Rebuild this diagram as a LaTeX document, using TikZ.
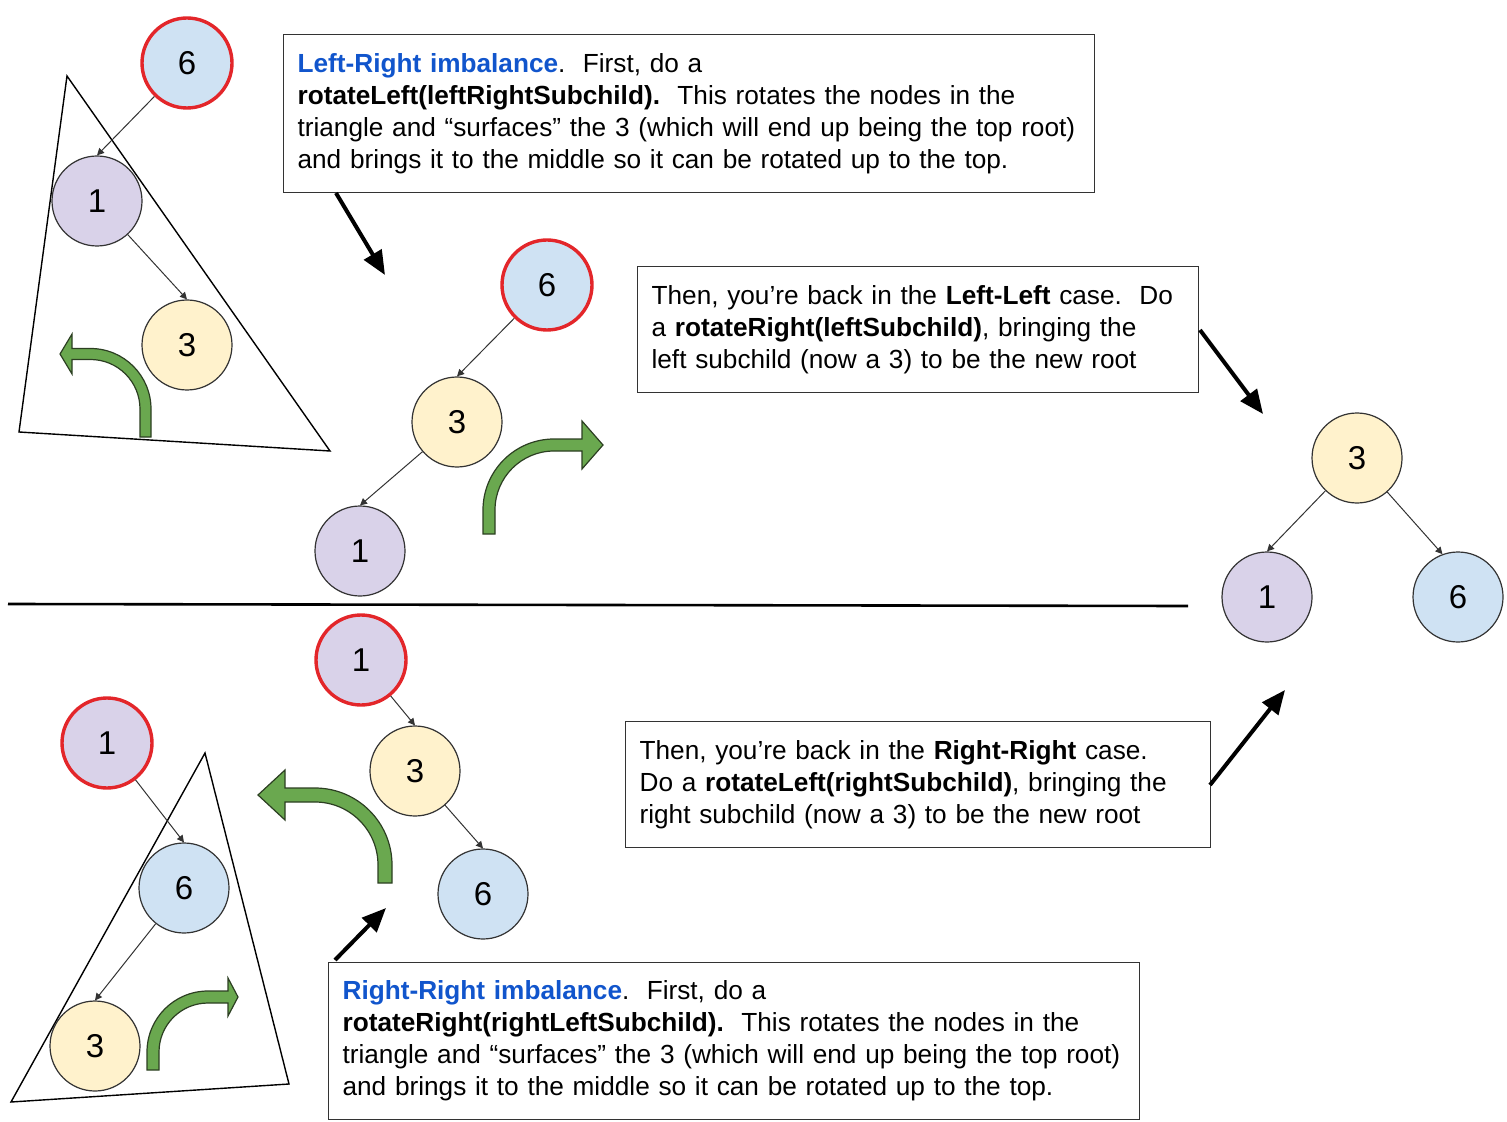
\documentclass[tikz,border=0pt]{standalone}
\usepackage{fontspec}
\setmainfont{Liberation Sans}
\usetikzlibrary{arrows.meta}
\definecolor{cpurple}{HTML}{D9D2E9}
\definecolor{cblue}{HTML}{CFE2F3}
\definecolor{cyellow}{HTML}{FFF2CC}
\definecolor{cred}{HTML}{E3262A}
\definecolor{cgreen}{HTML}{6AA84F}
\definecolor{cgreenline}{HTML}{2C3F22}
\definecolor{ctextblue}{HTML}{1155CC}
\definecolor{cline}{HTML}{333333}
\newcommand\greenarr[9]{%
  \begin{scope}[shift={(#1,#2)},xscale=#3]
    \draw[garrowsty] (-#9,0) -- (-#9,-#4)
      arc[start angle=180,end angle=270,radius={#5+#9}]
      -- ({#5+#6},{-#4-#5-#9}) -- ({#5+#6},{-#4-#5-#8})
      -- ({#5+#6+#7},{-#4-#5}) -- ({#5+#6},{-#4-#5+#8})
      -- ({#5+#6},{-#4-#5+#9}) -- (#5,{-#4-#5+#9})
      arc[start angle=270,end angle=180,radius={#5-#9}]
      -- (#9,0) -- cycle;
  \end{scope}}
\tikzset{
  garrowsty/.style={fill=cgreen,draw=cgreenline,line width=0.6pt,line join=miter},
  tnode/.style={circle,draw=cline,line width=0.6pt,minimum size=45pt,inner sep=0pt,
    font=\fontsize{16.5pt}{16.5pt}\selectfont},
  rootnode/.style={tnode,draw=cred,line width=1.7pt},
  pnode/.style={fill=cpurple},
  bnode/.style={fill=cblue},
  ynode/.style={fill=cyellow},
  edge/.style={draw=cline,line width=0.5pt,-{Triangle[length=3.5pt,width=3.5pt]}},
  bigarrow/.style={line width=2pt,-{Triangle[length=12pt,width=10pt]}},
  tri/.style={draw=black,line width=0.7pt},
  box/.style={draw=cline,line width=0.6pt,anchor=north west,align=left,
    inner xsep=7pt,inner ysep=0pt,
    font=\fontsize{13.1pt}{16pt}\selectfont},
}
\begin{document}
\begin{tikzpicture}[x=0.5pt,y=-0.5pt]
\useasboundingbox (0,0) rectangle (1507,1122);

% triangles
\draw[tri] (67,76) -- (19,432) -- (330,451) -- cycle;
\draw[tri] (205,753) -- (11,1102) -- (289,1084) -- cycle;

% green curved arrows
\greenarr{145.5}{437}{-1}{28}{55}{18.5}{12}{20}{5.5}
\greenarr{489}{534}{1}{24}{65}{28}{21}{24}{6}
\greenarr{385}{883}{-1}{18}{70}{30}{27}{25}{7}
\greenarr{153}{1070}{1}{18}{55}{20}{10}{19}{6}

% top-left tree
\node[rootnode,bnode] (a6) at (187,63) {6};
\node[tnode,pnode] (a1) at (97,201) {1};
\node[tnode,ynode] (a3) at (187,345) {3};
\draw[edge] (a6) -- (a1.north);
\draw[edge] (a1) -- (a3.north);

% middle tree
\node[rootnode,bnode] (b6) at (547,285) {6};
\node[tnode,ynode] (b3) at (457,422) {3};
\node[tnode,pnode] (b1) at (360,551) {1};
\draw[edge] (b6) -- (b3.north);
\draw[edge] (b3) -- (b1.north);

% right tree
\node[tnode,ynode] (c3) at (1357,458) {3};
\node[tnode,pnode] (c1) at (1267,597) {1};
\node[tnode,bnode] (c6) at (1458,597) {6};
\draw[edge] (c3) -- (c1.north);
\draw[edge] (c3) -- (c6.110);

% bottom middle tree
\node[rootnode,pnode] (d1) at (361,660) {1};
\node[tnode,ynode] (d3) at (415,771) {3};
\node[tnode,bnode] (d6) at (483,894) {6};
\draw[edge] (d1) -- (d3.north);
\draw[edge] (d3) -- (d6.north);

% bottom-left tree
\node[rootnode,pnode] (e1) at (107,743) {1};
\node[tnode,bnode] (e6) at (184,888) {6};
\node[tnode,ynode] (e3) at (95,1046) {3};
\draw[edge] (e1) -- (e6.north);
\draw[edge] (e6) -- (e3.north);

% separator
\coordinate (sepL) at (8,604);
\coordinate (sepR) at (1188,606);
\draw[line width=1.3pt] (sepL) -- (sepR);

% text boxes
\node[box,minimum width=405.5pt,minimum height=79pt,text width=391.5pt] (box1) at (283,34)
 {\mbox{\textbf{\textcolor{ctextblue}{Left-Right imbalance}}.\ \ First, do a}\\
  \mbox{\textbf{rotateLeft(leftRightSubchild).}\ \ This rotates the nodes in the}\\
  \mbox{triangle and “surfaces” the 3 (which will end up being the top root)}\\
  \mbox{and brings it to the middle so it can be rotated up to the top.}};
\node[box,minimum width=280.5pt,minimum height=63pt,text width=266.5pt] (box2) at (637,266)
 {\mbox{Then, you’re back in the \textbf{Left-Left} case.\ \ Do}\\
  \mbox{a \textbf{rotateRight(leftSubchild)}, bringing the}\\
  \mbox{left subchild (now a 3) to be the new root}};
\node[box,minimum width=292.5pt,minimum height=63pt,text width=278.5pt] (box3) at (625,721)
 {\mbox{Then, you’re back in the \textbf{Right-Right} case.}\\
  \mbox{Do a \textbf{rotateLeft(rightSubchild)}, bringing the}\\
  \mbox{right subchild (now a 3) to be the new root}};
\node[box,minimum width=405.5pt,minimum height=78.5pt,text width=391.5pt] (box4) at (328,962)
 {\mbox{\textbf{\textcolor{ctextblue}{Right-Right imbalance}}.\ \ First, do a}\\
  \mbox{\textbf{rotateRight(rightLeftSubchild).}\ \ This rotates the nodes in the}\\
  \mbox{triangle and “surfaces” the 3 (which will end up being the top root)}\\
  \mbox{and brings it to the middle so it can be rotated up to the top.}};

% black arrows
\coordinate (p1s) at (336,193); \coordinate (p1e) at (385,275);
\coordinate (p2s) at (1200,330); \coordinate (p2e) at (1263,414);
\coordinate (p3s) at (335,960); \coordinate (p3e) at (386,908);
\coordinate (p4s) at (1210,785); \coordinate (p4e) at (1285,690);
\draw[bigarrow] (p1s) -- (p1e);
\draw[bigarrow] (p2s) -- (p2e);
\draw[bigarrow] (p3s) -- (p3e);
\draw[bigarrow] (p4s) -- (p4e);
\end{tikzpicture}
\end{document}
